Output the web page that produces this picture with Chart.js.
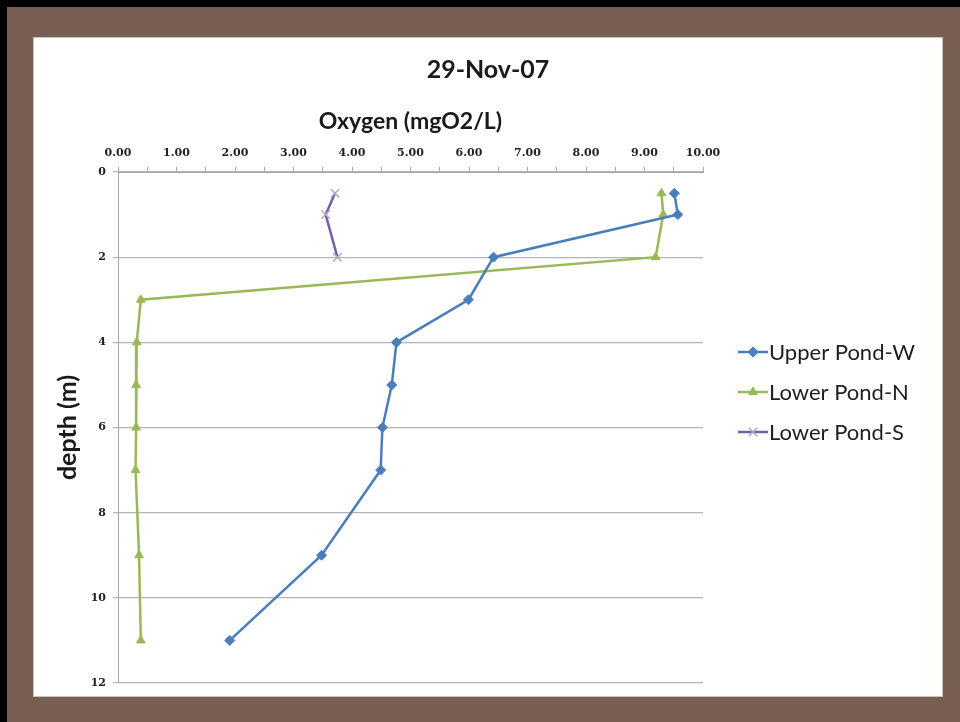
<!DOCTYPE html>
<html>
<head>
<meta charset="utf-8">
<script src="https://cdn.jsdelivr.net/npm/chart.js@4.4.1/dist/chart.umd.min.js"></script>
<style>
  html, body { margin: 0; padding: 0; background: #000; }
  #frame {
    position: relative; width: 953px; height: 715px; margin: 7px 0 0 7px;
    background: #785e53;
  }
  #panel {
    position: absolute; left: 26px; top: 30px; width: 910px; height: 660px;
    background: #fff; border: 1px solid #c8c4bc; box-sizing: border-box;
  }
  #panel canvas { position: absolute; left: -1px; top: -1px; }
</style>
</head>
<body>
<div id="frame"><div id="panel"><canvas id="chart" width="910" height="660"></canvas></div></div>
<script>
// depth profiles, 29-Nov-07
const depthW = [0.5, 1, 2, 3, 4, 5, 6, 7, 9, 11];
const oxygenW = [9.51, 9.57, 6.42, 5.99, 4.76, 4.68, 4.52, 4.49, 3.48, 1.91];
const depthN = [0.5, 1, 2, 3, 4, 5, 6, 7, 9, 11];
const oxygenN = [9.29, 9.32, 9.19, 0.39, 0.32, 0.31, 0.31, 0.30, 0.36, 0.39];
const depthS = [0.5, 1, 2];
const oxygenS = [3.71, 3.55, 3.75];
const seriesNames = ['Upper Pond-W', 'Lower Pond-N', 'Lower Pond-S'];

const toPoints = (xs, ys) => xs.map((x, i) => ({ x: x, y: ys[i] }));

// legend drawn as line + marker, like the original spreadsheet chart
const sideLegend = {
  id: 'sideLegend',
  afterDraw(chart) {
    const ctx = chart.ctx;
    const rows = [315, 355, 395];
    chart.data.datasets.forEach((ds, i) => {
      const y = rows[i];
      ctx.save();
      ctx.strokeStyle = ds.borderColor;
      ctx.lineWidth = 2.5;
      ctx.beginPath();
      ctx.moveTo(705, y);
      ctx.lineTo(735, y);
      ctx.stroke();
      ctx.fillStyle = ds.pointBackgroundColor;
      ctx.strokeStyle = ds.pointBorderColor;
      ctx.lineWidth = ds.pointBorderWidth;
      Chart.helpers.drawPoint(ctx, { pointStyle: ds.pointStyle, radius: ds.pointRadius, borderWidth: ds.pointBorderWidth }, 720, y);
      ctx.fillStyle = '#1e1e1e';
      ctx.font = '22px Lato';
      ctx.textBaseline = 'middle';
      ctx.fillText(ds.label, 736, y + 1);
      ctx.restore();
    });
  }
};

new Chart(document.getElementById('chart').getContext('2d'), {
  type: 'scatter',
  data: {
    datasets: [{
      label: seriesNames[0],
      data: toPoints(oxygenW, depthW),
      showLine: true,
      borderColor: '#4a7ebb',
      borderWidth: 2.5,
      pointStyle: 'rectRot',
      pointRadius: 5,
      pointBackgroundColor: '#4a7ebb',
      pointBorderColor: '#4a7ebb',
      pointBorderWidth: 1
    }, {
      label: seriesNames[1],
      data: toPoints(oxygenN, depthN),
      showLine: true,
      borderColor: '#98b954',
      borderWidth: 2.5,
      pointStyle: 'triangle',
      pointRadius: 5,
      pointBackgroundColor: '#98b954',
      pointBorderColor: '#98b954',
      pointBorderWidth: 1
    }, {
      label: seriesNames[2],
      data: toPoints(oxygenS, depthS),
      showLine: true,
      borderColor: '#7560a0',
      borderWidth: 2.5,
      pointStyle: 'crossRot',
      pointRadius: 6,
      pointBackgroundColor: '#b3a6cc',
      pointBorderColor: '#b3a6cc',
      pointBorderWidth: 1.5
    }]
  },
  options: {
    responsive: false,
    animation: false,
    devicePixelRatio: 1,
    layout: { padding: { left: 0, top: 0, right: 0, bottom: 14 } },
    plugins: {
      legend: { display: false },
      tooltip: { enabled: false },
      title: {
        display: true,
        text: '29-Nov-07',
        color: '#1a1a1a',
        font: { family: 'Lato', size: 25, weight: 'bold' },
        padding: { top: 17.5, bottom: 0 }
      }
    },
    scales: {
      x: {
        type: 'linear',
        position: 'top',
        min: 0,
        max: 10,
        afterFit(scale) { scale.height = 87.5; },
        title: {
          display: true,
          text: 'Oxygen (mgO2/L)',
          color: '#1a1a1a',
          font: { family: 'Lato', size: 23, weight: 'bold' },
          padding: { top: 23, bottom: 0 }
        },
        ticks: {
          stepSize: 0.5,
          autoSkip: false,
          maxRotation: 0,
          padding: 7,
          color: '#222',
          font: { family: 'DejaVu Serif', size: 11, weight: 'bold' },
          callback: v => Number.isInteger(v) ? v.toFixed(2) : ''
        },
        grid: { drawOnChartArea: false, tickLength: 5, color: '#a6a6a6' },
        border: { color: '#a6a6a6' }
      },
      y: {
        type: 'linear',
        reverse: true,
        min: 0,
        max: 12,
        afterFit(scale) { scale.width = 85; },
        title: {
          display: true,
          text: 'depth (m)',
          color: '#1a1a1a',
          font: { family: 'Lato', size: 25, weight: 'bold' },
          padding: { top: 20, bottom: 0 }
        },
        ticks: {
          stepSize: 2,
          padding: 7,
          color: '#222',
          font: { family: 'DejaVu Serif', size: 11, weight: 'bold' }
        },
        grid: { tickLength: 5, color: '#b4b4b4', lineWidth: 1.2 },
        border: { color: '#a6a6a6' }
      },
      // empty right-hand column that holds the legend, so the title centres on the whole panel
      legendSpace: {
        type: 'linear',
        position: 'right',
        min: 0,
        max: 12,
        afterFit(scale) { scale.width = 240; },
        ticks: { display: false },
        grid: { display: false },
        border: { display: false }
      }
    }
  },
  plugins: [sideLegend]
});
</script>
</body>
</html>
